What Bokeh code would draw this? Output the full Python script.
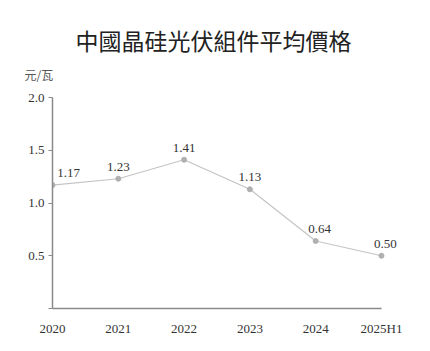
from bokeh.plotting import figure
from bokeh.models import Range1d, Title, LabelSet, ColumnDataSource, FixedTicker
from bokeh.embed import file_html
from bokeh.resources import INLINE

years = ["2020", "2021", "2022", "2023", "2024", "2025H1"]
prices = [1.17, 1.23, 1.41, 1.13, 0.64, 0.50]
price_labels = ["1.17", "1.23", "1.41", "1.13", "0.64", "0.50"]
y_ticks = [0, 0.5, 1.0, 1.5, 2.0]

label_dx = [16, 0, 0, 0, 4, 4]

xs = list(range(len(years)))
src = ColumnDataSource(dict(x=xs, y=prices, t=price_labels, dx=label_dx))

p = figure(width=430, height=351, output_backend="svg", toolbar_location=None,
           x_range=Range1d(0, 5.35), y_range=Range1d(0, 2.0),
           min_border_left=52, min_border_right=26, min_border_top=97, min_border_bottom=43)
p.outline_line_color = None
p.xgrid.visible = False
p.ygrid.visible = False
p.background_fill_color = "white"
p.border_fill_color = "white"

p.line("x", "y", source=src, line_color="#c4c4c4", line_width=1.2)
p.scatter("x", "y", source=src, size=5, fill_color="#b0b0b0", line_color="#b0b0b0")
labels = LabelSet(x="x", y="y", text="t", source=src, x_offset="dx", y_offset=12,
                  text_align="center", text_baseline="middle",
                  text_font="Liberation Serif", text_font_size="13px", text_color="#333333")
p.add_layout(labels)

for ax in (p.xaxis[0], p.yaxis[0]):
    ax.axis_line_color = "#8a8a8a"
    ax.axis_line_width = 1.5
    ax.major_label_text_font = "Liberation Serif"
    ax.major_label_text_font_size = "13px"
    ax.major_label_text_color = "#333333"
    ax.minor_tick_line_color = None

p.xaxis.ticker = FixedTicker(ticks=xs)
p.xaxis.bounds = (0, len(years) - 1)
p.xaxis.major_label_overrides = {i: y for i, y in enumerate(years)}
p.xaxis.major_tick_line_color = None
p.xaxis.major_tick_out = 0
p.xaxis.major_tick_in = 0
p.xaxis.major_label_standoff = 12

p.yaxis.ticker = FixedTicker(ticks=y_ticks)
p.yaxis.major_label_overrides = {0: "", 0.5: "0.5", 1.0: "1.0", 1.5: "1.5", 2.0: "2.0"}
p.yaxis.major_tick_line_color = "#8a8a8a"
p.yaxis.major_tick_out = 4
p.yaxis.major_tick_in = 0
p.yaxis.major_label_standoff = 4

p.title.visible = False
unit = Title(text="元/瓦", align="left", offset=-28, standoff=30,
             text_font="Noto Sans CJK SC", text_font_size="12px",
             text_font_style="normal", text_color="#555555")
main = Title(text="中國晶硅光伏組件平均價格", align="left", offset=23, standoff=-17,
             text_font="Noto Sans CJK TC", text_font_size="23px",
             text_font_style="normal", text_color="#222222")
p.add_layout(unit, "above")
p.add_layout(main, "above")

open("out.html", "w").write(file_html(p, INLINE))
